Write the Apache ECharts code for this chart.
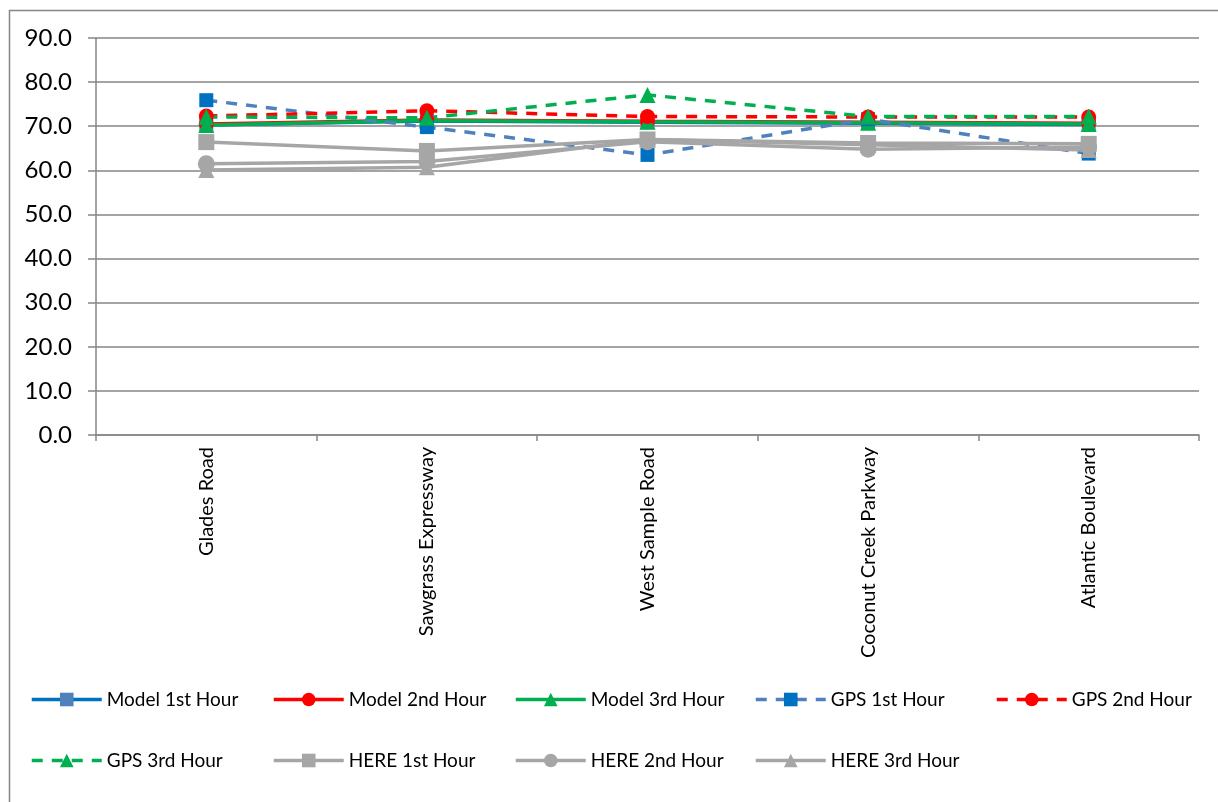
<!DOCTYPE html>
<html>
<head>
<meta charset="utf-8">
<script src="https://cdn.jsdelivr.net/npm/echarts@6/dist/echarts.min.js"></script>
<style>
html,body{margin:0;padding:0;background:#fff;}
#chart{width:1218px;height:802px;}
</style>
</head>
<body>
<div id="chart"></div>
<script>
const categories = ['Glades Road', 'Sawgrass Expressway', 'West Sample Road', 'Coconut Creek Parkway', 'Atlantic Boulevard'];
const yTicks = [0, 10, 20, 30, 40, 50, 60, 70, 80, 90];

const model1 = [70.3, 71.2, 70.9, 70.7, 70.4];
const model2 = [70.5, 71.4, 71.1, 70.9, 70.7];
const model3 = [70.3, 71.3, 71.0, 70.8, 70.5];
const gps1 = [75.9, 69.8, 63.5, 71.6, 63.8];
const gps2 = [72.3, 73.5, 72.2, 72.1, 72.1];
const gps3 = [72.1, 71.9, 77.1, 72.2, 72.2];
const here1 = [66.4, 64.4, 67.0, 66.2, 66.0];
const here2 = [61.5, 62.0, 66.5, 64.8, 65.3];
const here3 = [60.1, 60.7, 67.0, 65.8, 64.6];

const seriesNames = ['Model 1st Hour', 'Model 2nd Hour', 'Model 3rd Hour', 'GPS 1st Hour', 'GPS 2nd Hour', 'GPS 3rd Hour', 'HERE 1st Hour', 'HERE 2nd Hour', 'HERE 3rd Hour'];

const FONT = 'Lato, "Open Sans", sans-serif';
const BLUE = '#0070C0', STEEL = '#4F81BD', RED = '#FF0000', GREEN = '#00B050', GRAY = '#A6A6A6';
const DASH = [11, 9];

function mk(name, data, lineColor, markColor, symbol, dashed, size) {
  return {
    name: name, type: 'line', data: data,
    symbol: symbol, symbolSize: size,
    lineStyle: { color: lineColor, width: 3.5, type: dashed ? DASH : 'solid' },
    itemStyle: { color: markColor, borderWidth: 0 },
    emphasis: { disabled: true },
    animation: false
  };
}

const series = [
  mk(seriesNames[0], model1, BLUE, STEEL, 'rect', false, 14),
  mk(seriesNames[1], model2, RED, RED, 'circle', false, 15),
  mk(seriesNames[2], model3, GREEN, GREEN, 'triangle', false, 16),
  mk(seriesNames[3], gps1, STEEL, BLUE, 'rect', true, 14),
  mk(seriesNames[4], gps2, RED, RED, 'circle', true, 15),
  mk(seriesNames[5], gps3, GREEN, GREEN, 'triangle', true, 16),
  mk(seriesNames[6], here1, GRAY, GRAY, 'rect', false, 16),
  mk(seriesNames[7], here2, GRAY, GRAY, 'circle', false, 17),
  mk(seriesNames[8], here3, GRAY, GRAY, 'triangle', false, 16)
];

const legendPos = [
  [30, 690], [272, 690], [514, 690], [754, 690], [995, 690],
  [30, 751], [272, 751], [514, 751], [754, 751]
];
const legends = seriesNames.map(function (n, i) {
  return {
    data: [n], left: legendPos[i][0], top: legendPos[i][1],
    itemWidth: 70, itemHeight: 17, itemGap: 0, padding: 0,
    selectedMode: false,
    lineStyle: { width: 3.5 },
    textStyle: { fontFamily: FONT, fontSize: 19, color: '#000' }
  };
});

const chart = echarts.init(document.getElementById('chart'), null, { renderer: 'canvas' });
chart.setOption({
  backgroundColor: '#fff',
  animation: false,
  graphic: [{
    type: 'rect', left: 7, top: 8,
    shape: { width: 1230, height: 820 },
    style: { fill: 'none', stroke: '#868686', lineWidth: 1.5 },
    silent: true, z: -10
  }],
  grid: { left: 96, right: 19, top: 38, bottom: 367, containLabel: false },
  legend: legends,
  xAxis: {
    type: 'category', data: categories, boundaryGap: true,
    axisLine: { show: true, lineStyle: { color: '#868686', width: 1.5 } },
    axisTick: { show: true, length: 6, alignWithLabel: false, lineStyle: { color: '#868686', width: 1.5 } },
    axisLabel: { rotate: 90, margin: 12, fontFamily: FONT, fontSize: 20, color: '#000' },
    splitLine: { show: false }
  },
  yAxis: {
    type: 'value', min: 0, max: 90, interval: 10,
    axisLine: { show: true, lineStyle: { color: '#868686', width: 1.5 } },
    axisTick: { show: true, length: 8, lineStyle: { color: '#868686', width: 1.5 } },
    axisLabel: {
      margin: 24, fontFamily: FONT, fontSize: 24, color: '#000',
      formatter: function (v) { return yTicks.indexOf(v) >= 0 ? v.toFixed(1) : ''; }
    },
    splitLine: { show: true, lineStyle: { color: '#868686', width: 1.5 } }
  },
  series: series
});
</script>
</body>
</html>
